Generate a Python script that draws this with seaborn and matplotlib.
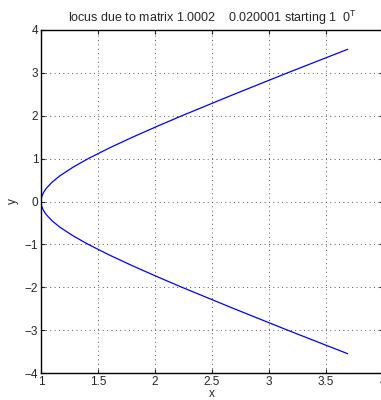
import matplotlib
matplotlib.use('Agg')
import matplotlib.pyplot as plt
import seaborn as sns
import pandas as pd

# points (upper half, from the vertex outward)
y_upper = [0.0, 0.1, 0.2, 0.3, 0.45, 0.6, 0.8, 1.0, 1.25, 1.5, 1.75, 2.0, 2.5, 3.0, 3.55]
x_upper = [1.0, 1.005, 1.02, 1.044, 1.097, 1.166, 1.281, 1.414, 1.601, 1.803, 2.016, 2.236, 2.693, 3.162, 3.69]

# lower half mirrors the upper one
y_vals = [-v for v in y_upper[::-1]] + y_upper[1:]
x_vals = x_upper[::-1] + x_upper[1:]

x_ticks = [1, 1.5, 2, 2.5, 3, 3.5, 4]
x_labels = ['1', '1.5', '2', '2.5', '3', '3.5', '4']
y_ticks = [-4, -3, -2, -1, 0, 1, 2, 3, 4]
y_labels = ['\u22124', '\u22123', '\u22122', '\u22121', '0', '1', '2', '3', '4']

sns.set_style('white')
plt.rcParams['font.family'] = ['Liberation Sans', 'DejaVu Sans']
plt.rcParams['mathtext.fontset'] = 'custom'
plt.rcParams['mathtext.rm'] = 'Liberation Sans'
plt.rcParams['mathtext.it'] = 'Liberation Sans'

df = pd.DataFrame({'x': x_vals, 'y': y_vals})

fig = plt.figure(figsize=(3.81, 4.0), dpi=100)
ax = fig.add_axes([41 / 381, 1 - 373 / 400, 342 / 381, 343 / 400])

sns.lineplot(data=df, x='x', y='y', sort=False, estimator=None,
             color='#0000ff', linewidth=0.9, ax=ax)

ax.set_xlim(1, 4)
ax.set_ylim(-4, 4)
ax.set_xticks(x_ticks)
ax.set_xticklabels(x_labels)
ax.set_yticks(y_ticks)
ax.set_yticklabels(y_labels)
ax.grid(True, linestyle=(0, (1, 3.5)), color='#555555', linewidth=0.7)
ax.tick_params(direction='in', length=3, width=0.8, labelsize=8.5, pad=2,
               top=True, right=True, bottom=True, left=True)
for s in ax.spines.values():
    s.set_color('black')
    s.set_linewidth(1.0)

ax.set_xlabel('x', fontsize=8.5, labelpad=0)
ax.set_ylabel('y', fontsize=8.5, labelpad=4)
ax.set_title('locus due to matrix 1.0002    0.020001 starting 1  0$^{T}$', fontsize=9, pad=6)

fig.savefig('out.png', dpi=100)
